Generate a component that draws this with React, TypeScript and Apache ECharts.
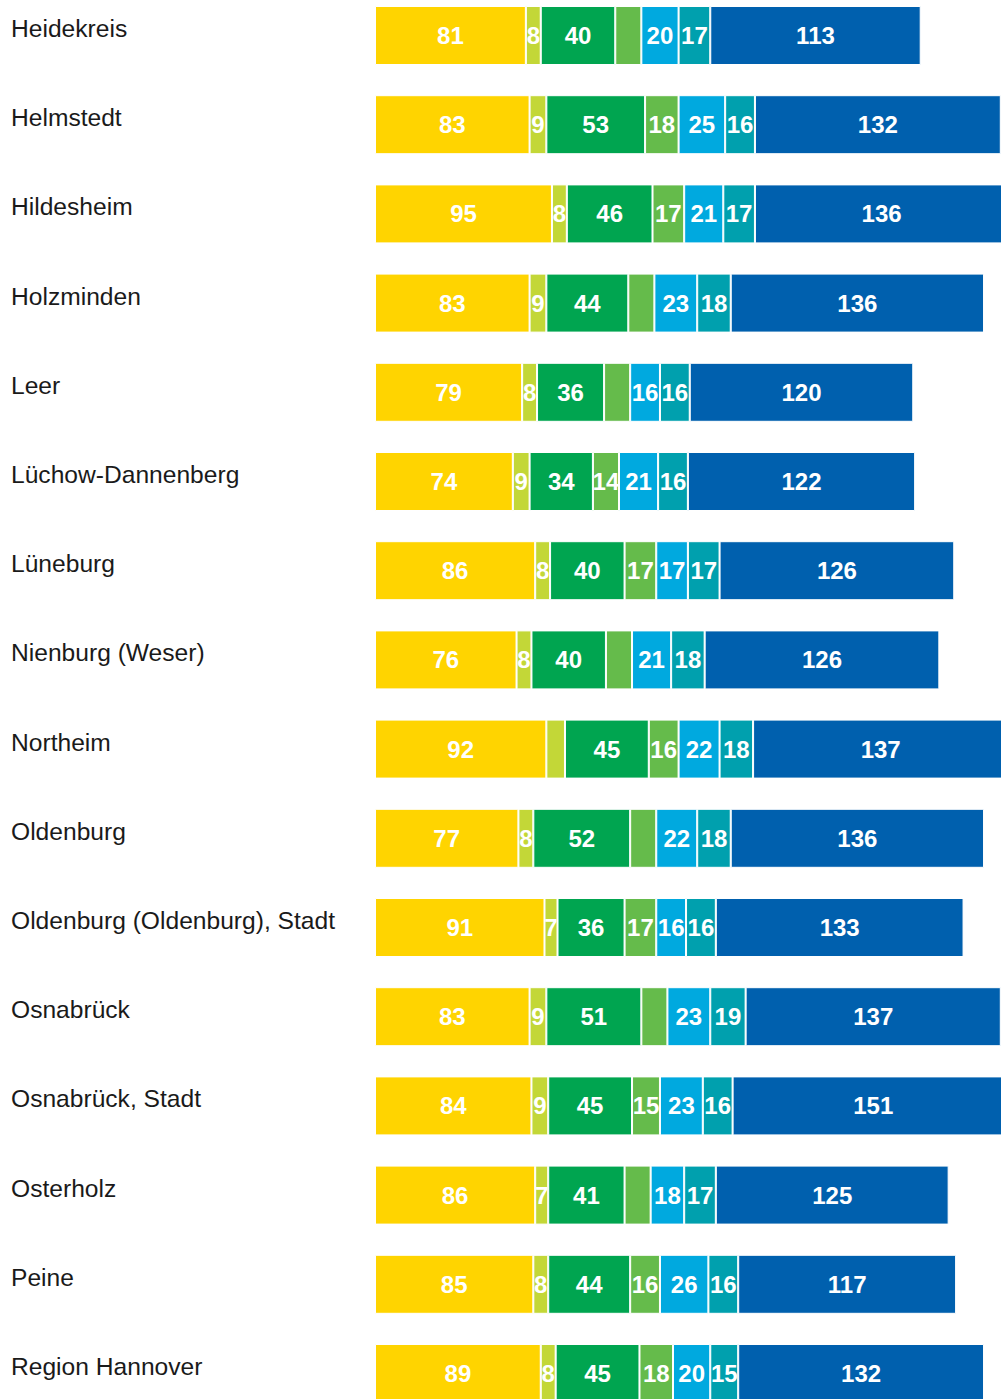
import React, { useEffect, useRef } from "react";
import * as echarts from "echarts";

const categories = [
  "Heidekreis",
  "Helmstedt",
  "Hildesheim",
  "Holzminden",
  "Leer",
  "Lüchow-Dannenberg",
  "Lüneburg",
  "Nienburg (Weser)",
  "Northeim",
  "Oldenburg",
  "Oldenburg (Oldenburg), Stadt",
  "Osnabrück",
  "Osnabrück, Stadt",
  "Osterholz",
  "Peine",
  "Region Hannover",
];

const seriesNames = ["Gruppe 1", "Gruppe 2", "Gruppe 3", "Gruppe 4", "Gruppe 5", "Gruppe 6", "Gruppe 7"];

const s1 = [81, 83, 95, 83, 79, 74, 86, 76, 92, 77, 91, 83, 84, 86, 85, 89];
const s2 = [8, 9, 8, 9, 8, 9, 8, 8, 10, 8, 7, 9, 9, 7, 8, 8];
const s3 = [40, 53, 46, 44, 36, 34, 40, 40, 45, 52, 36, 51, 45, 41, 44, 45];
const s4 = [14, 18, 17, 14, 14, 14, 17, 14, 16, 14, 17, 14, 15, 14, 16, 18];
const s5 = [20, 25, 21, 23, 16, 21, 17, 21, 22, 22, 16, 23, 23, 18, 26, 20];
const s6 = [17, 16, 17, 18, 16, 16, 17, 18, 18, 18, 16, 19, 16, 17, 16, 15];
const s7 = [113, 132, 136, 136, 120, 122, 126, 126, 137, 136, 133, 137, 151, 125, 117, 132];

// [seriesIndex, categoryIndex] of segments whose value is not printed
const hiddenLabels: [number, number][] = [
  [3, 0],
  [3, 3],
  [3, 4],
  [3, 7],
  [1, 8],
  [3, 9],
  [3, 11],
  [3, 13],
];

const colors = ["#FFD400", "#C3D737", "#00A550", "#65BB4B", "#00A9DF", "#00A0AE", "#0060AE"];

const allSeries = [s1, s2, s3, s4, s5, s6, s7];

export default function App() {
  const ref = useRef<HTMLDivElement>(null);

  useEffect(() => {
    if (!ref.current) return;
    const chart = echarts.init(ref.current, null, { renderer: "svg" });
    const band = 89.2;
    const hidden = new Set(hiddenLabels.map(([s, c]) => s + "-" + c));
    chart.setOption({
      animation: false,
      grid: { left: 375, top: 10.9, width: 745, height: band * categories.length },
      xAxis: {
        type: "value",
        min: 0,
        max: 400,
        show: false,
        splitLine: { show: false },
      },
      yAxis: {
        type: "category",
        data: categories,
        inverse: true,
        axisLine: { show: false },
        axisTick: { show: false },
        axisLabel: {
          align: "left",
          margin: 364,
          formatter: (v: string) => "{t|" + v + "}",
          rich: {
            t: {
              fontSize: 24.6,
              color: "#1a1a1a",
              fontFamily: "Arial, 'Liberation Sans', sans-serif",
              padding: [0, 0, 14, 0],
            },
          },
        },
      },
      series: allSeries.map((vals, si) => ({
        type: "bar",
        name: seriesNames[si],
        stack: "total",
        barWidth: 59,
        clip: false,
        itemStyle: { color: colors[si], borderColor: "#ffffff", borderWidth: 1 },
        label: {
          show: true,
          position: "inside",
          color: "#ffffff",
          fontSize: 24,
          fontWeight: "bold",
          fontFamily: "Arial, 'Liberation Sans', sans-serif",
          formatter: (p: any) => (hidden.has(si + "-" + p.dataIndex) ? "" : String(p.value)),
        },
        data: vals,
      })),
    });
    return () => chart.dispose();
  }, []);

  return (
    <div
      style={{
        position: "fixed",
        left: 0,
        top: 0,
        width: 1001,
        height: 1399,
        overflow: "hidden",
        background: "#ffffff",
      }}
    >
      <div ref={ref} style={{ position: "absolute", left: 0, top: -20, width: 1300, height: 1500 }} />
    </div>
  );
}
